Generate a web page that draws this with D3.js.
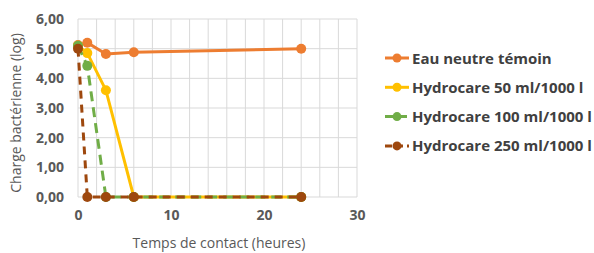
<!DOCTYPE html>
<html>
<head>
<meta charset="utf-8">
<script src="https://cdn.jsdelivr.net/npm/d3@7"></script>
<style>
  body { margin: 0; background: #fff; }
  text { font-family: "Open Sans", sans-serif; }
</style>
</head>
<body>
<div class="chart"></div>
<script>
// Data
const hours = [0, 1, 3, 6, 24];
const eauNeutre = [5.12, 5.2, 4.82, 4.88, 5.0];
const hydro50 = [5.1, 4.85, 3.6, 0, 0];
const hydro100 = [5.1, 4.42, 0, 0, 0];
const hydro250 = [5.0, 0, 0, 0, 0];
const seriesNames = ['Eau neutre témoin', 'Hydrocare 50 ml/1000 l', 'Hydrocare 100 ml/1000 l', 'Hydrocare 250 ml/1000 l'];
const yTicks = [0, 1, 2, 3, 4, 5, 6];
const xTicks = [0, 10, 20, 30];

const width = 594, height = 253;
const svg = d3.select('.chart').append('svg')
    .attr('width', width)
    .attr('height', height);

const x = d3.scaleLinear().domain([0, 30]).range([78, 357]);
const y = d3.scaleLinear().domain([0, 6]).range([197, 19]);

const series = [
    { name: seriesNames[0], values: eauNeutre, color: '#ED7D31', dash: null, legendDash: null },
    { name: seriesNames[1], values: hydro50, color: '#FFC000', dash: null, legendDash: null },
    { name: seriesNames[2], values: hydro100, color: '#70AD47', dash: '10,6', legendDash: '10,2' },
    { name: seriesNames[3], values: hydro250, color: '#9E480E', dash: '8,6', legendDash: '7,4' }
];

// Gridlines (every 2 hours, every 1 log)
const grid = svg.append('g');
grid.selectAll('.vgrid').data(d3.range(0, 31, 2)).join('line')
    .attr('x1', d => x(d)).attr('x2', d => x(d))
    .attr('y1', y(6)).attr('y2', y(0))
    .attr('stroke', '#d9d9d9').attr('stroke-width', 1);
grid.selectAll('.hgrid').data(yTicks).join('line')
    .attr('x1', x(0)).attr('x2', x(30))
    .attr('y1', d => y(d)).attr('y2', d => y(d))
    .attr('stroke', '#d9d9d9').attr('stroke-width', 1);

// Axes
const yAxis = svg.append('g').attr('transform', `translate(${x(0)},0)`)
    .call(d3.axisLeft(y).tickValues(yTicks).tickSize(0).tickPadding(14)
        .tickFormat(d => d3.format('.2f')(d).replace('.', ',')));
yAxis.select('.domain').remove();
yAxis.selectAll('text').attr('font-size', 14).attr('font-weight', 'bold')
    .attr('fill', '#595959').style('font-family', '"Open Sans", sans-serif');

const xAxis = svg.append('g').attr('transform', `translate(0,${y(0)})`)
    .call(d3.axisBottom(x).tickValues(xTicks).tickSize(0).tickPadding(13));
xAxis.select('.domain').remove();
xAxis.selectAll('text').attr('font-size', 14).attr('font-weight', 'bold')
    .attr('fill', '#595959').style('font-family', '"Open Sans", sans-serif');

// Axis titles
svg.append('text')
    .attr('transform', 'rotate(-90)')
    .attr('x', -113).attr('y', 21)
    .attr('text-anchor', 'middle')
    .attr('font-size', 14).attr('fill', '#595959')
    .text('Charge bactérienne (log)');
svg.append('text')
    .attr('x', 219).attr('y', 248)
    .attr('text-anchor', 'middle')
    .attr('font-size', 14).attr('fill', '#595959')
    .text('Temps de contact (heures)');

// Lines and markers
const line = d3.line().x((d, i) => x(hours[i])).y(d => y(d));
series.forEach(s => {
    svg.append('path')
        .datum(s.values)
        .attr('d', line)
        .attr('fill', 'none')
        .attr('stroke', s.color)
        .attr('stroke-width', 3)
        .attr('stroke-dasharray', s.dash);
    svg.selectAll(null).data(s.values).join('circle')
        .attr('cx', (d, i) => x(hours[i]))
        .attr('cy', d => y(d))
        .attr('r', 5)
        .attr('fill', s.color);
});

// Legend
const legend = svg.append('g');
series.forEach((s, i) => {
    const g = legend.append('g').attr('transform', `translate(385, ${58 + i * 29.3})`);
    g.append('line')
        .attr('x1', 0).attr('x2', 24).attr('y1', 0).attr('y2', 0)
        .attr('stroke', s.color).attr('stroke-width', 3)
        .attr('stroke-dasharray', s.legendDash);
    g.append('circle').attr('cx', 12).attr('cy', 0).attr('r', 4.5).attr('fill', s.color);
    g.append('text')
        .attr('x', 27).attr('y', 5.5)
        .attr('font-size', 15).attr('font-weight', 'bold')
        .attr('fill', '#404040')
        .text(s.name);
});
</script>
</body>
</html>
